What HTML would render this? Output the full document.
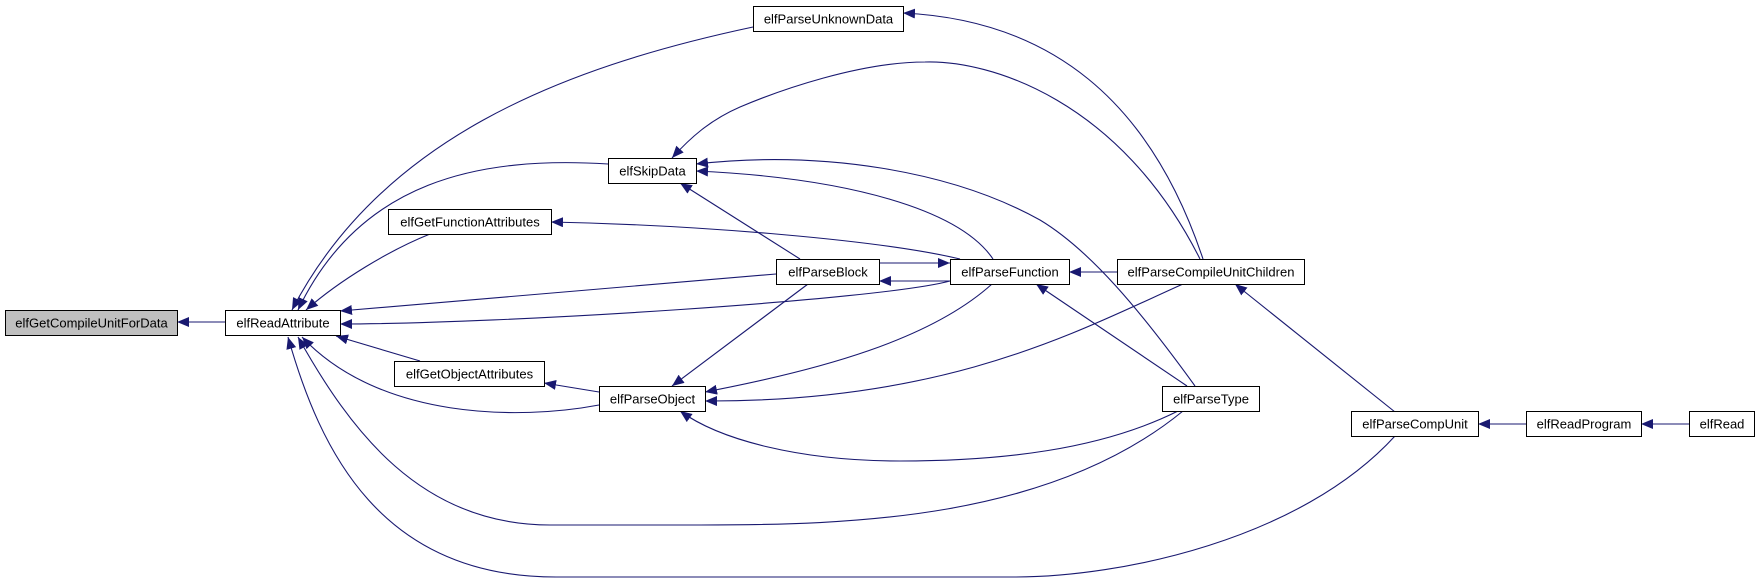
<!DOCTYPE html>
<html><head><meta charset="utf-8"><style>
html,body{margin:0;padding:0;background:#fff;}
svg{display:block;}
text{font-family:"Liberation Sans",Arial,sans-serif;font-size:13px;fill:#000;}
</style></head><body>
<svg width="1760" height="583" viewBox="0 0 1760 583" xmlns="http://www.w3.org/2000/svg">
<defs>
<marker id="a" markerUnits="userSpaceOnUse" markerWidth="14" markerHeight="12" refX="12" refY="5" orient="auto">
<path d="M0,0 L12,5 L0,10 Z" fill="#191970"/>
</marker>
</defs>
<g fill="none" stroke="#191970" stroke-width="1.1" marker-end="url(#a)">
<path d="M225,322 L177,322"/>
<path d="M753,27 C560,68 380,140 292,310"/>
<path d="M608,164 C480,156 360,180 298,310"/>
<path d="M430,234 C390,250 340,280 306,310"/>
<path d="M776,274 L340,311"/>
<path d="M950,281 C880,300 500,324 340,324"/>
<path d="M420,361 L336,336"/>
<path d="M599,405 C520,420 380,420 302,337"/>
<path d="M1183,411 C1050,520 850,525 700,525 L550,525 C420,525 350,430 298,337"/>
<path d="M1395,436 C1300,540 1120,577 1015,577 L556,577 C380,577 320,450 288,337"/>
<path d="M1203,259 C1150,100 1050,20 903,13"/>
<path d="M1200,259 C1120,100 990,60 925,62 C860,62 780,90 740,107 C710,120 690,138 672,158"/>
<path d="M993,259 C960,210 850,178 696,171"/>
<path d="M1195,386 C1140,310 1090,250 1040,220 C950,170 820,150 696,164"/>
<path d="M800,259 L680,183"/>
<path d="M960,259 C880,240 700,225 551,222"/>
<path d="M879,263 L950,263"/>
<path d="M950,281 L879,281"/>
<path d="M1117,272 L1069,272"/>
<path d="M599,392 L544,383"/>
<path d="M808,284 L672,386"/>
<path d="M992,284 C930,340 820,370 705,392"/>
<path d="M1183,284 C1080,330 950,402 705,401"/>
<path d="M1178,411 C1100,450 1000,461 900,461 C800,461 720,440 680,411"/>
<path d="M1187,386 L1036,284"/>
<path d="M1395,412 L1235,284"/>
<path d="M1526,424 L1478,424"/>
<path d="M1689,424 L1641,424"/>
</g>
<g stroke="#000" stroke-width="1">
<rect x="5.5" y="310.5" width="172" height="25" fill="#bfbfbf"/>
<rect x="225.5" y="310.5" width="115" height="25" fill="#fff"/>
<rect x="753.5" y="6.5" width="150" height="25" fill="#fff"/>
<rect x="608.5" y="158.5" width="88" height="25" fill="#fff"/>
<rect x="388.5" y="209.5" width="163" height="25" fill="#fff"/>
<rect x="776.5" y="259.5" width="103" height="25" fill="#fff"/>
<rect x="950.5" y="259.5" width="119" height="25" fill="#fff"/>
<rect x="1117.5" y="259.5" width="187" height="25" fill="#fff"/>
<rect x="394.5" y="361.5" width="150" height="25" fill="#fff"/>
<rect x="599.5" y="386.5" width="106" height="25" fill="#fff"/>
<rect x="1162.5" y="386.5" width="97" height="25" fill="#fff"/>
<rect x="1351.5" y="411.5" width="127" height="25" fill="#fff"/>
<rect x="1526.5" y="411.5" width="115" height="25" fill="#fff"/>
<rect x="1689.5" y="411.5" width="65" height="25" fill="#fff"/>
</g>
<g text-anchor="middle">
<text x="91.5" y="327.5">elfGetCompileUnitForData</text>
<text x="283" y="327.5">elfReadAttribute</text>
<text x="828.5" y="23.5">elfParseUnknownData</text>
<text x="652.5" y="175.5">elfSkipData</text>
<text x="470" y="226.5">elfGetFunctionAttributes</text>
<text x="828" y="276.5">elfParseBlock</text>
<text x="1010" y="276.5">elfParseFunction</text>
<text x="1211" y="276.5">elfParseCompileUnitChildren</text>
<text x="469.5" y="378.5">elfGetObjectAttributes</text>
<text x="652.5" y="403.5">elfParseObject</text>
<text x="1211" y="403.5">elfParseType</text>
<text x="1415" y="428.5">elfParseCompUnit</text>
<text x="1584" y="428.5">elfReadProgram</text>
<text x="1722" y="428.5">elfRead</text>
</g>
</svg>
</body></html>
